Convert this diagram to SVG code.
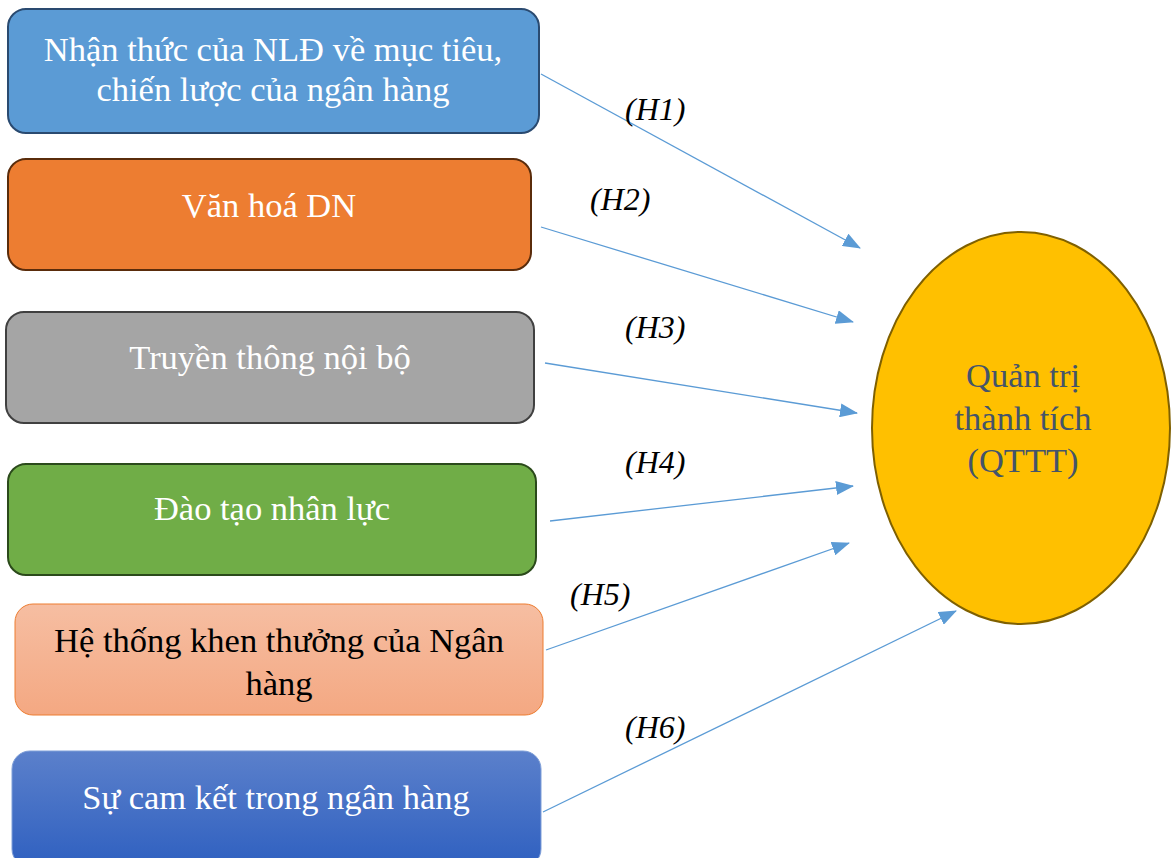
<svg xmlns="http://www.w3.org/2000/svg" width="1171" height="858" viewBox="0 0 1171 858">
  <defs>
    <style>
      text { font-family: 'Liberation Serif', 'Times New Roman', serif; }
      .lbl { font-size: 34.5px; text-anchor: middle; }
      .w { fill: #ffffff; }
      .k { fill: #000000; }
      .hyp { font-size: 32px; font-style: italic; fill: #000000; }
      .link { stroke: #5b9bd5; stroke-width: 1.3; fill: none; marker-end: url(#arrow); }
    </style>
    <marker id="arrow" markerUnits="userSpaceOnUse" markerWidth="18" markerHeight="14" refX="17" refY="7" orient="auto">
      <path d="M0,0 L18,7 L0,14 Z" fill="#5b9bd5"/>
    </marker>
    <linearGradient id="gPeach" x1="0" y1="0" x2="0" y2="1">
      <stop offset="0" stop-color="#f6bea2"/>
      <stop offset="1" stop-color="#f4a882"/>
    </linearGradient>
    <linearGradient id="gBlue" x1="0" y1="0" x2="0" y2="1">
      <stop offset="0" stop-color="#5b80cb"/>
      <stop offset="1" stop-color="#2f60c0"/>
    </linearGradient>
  </defs>

  <rect width="1171" height="858" fill="#ffffff"/>

  <g id="connectors">
    <line class="link" x1="541" y1="74" x2="860" y2="248"/>
    <line class="link" x1="541" y1="227" x2="853" y2="322"/>
    <line class="link" x1="545" y1="363" x2="857" y2="413"/>
    <line class="link" x1="550" y1="521" x2="853" y2="486"/>
    <line class="link" x1="546" y1="650" x2="849" y2="543"/>
    <line class="link" x1="543" y1="812" x2="956" y2="611"/>
    <text class="hyp" x="625" y="120">(H1)</text>
    <text class="hyp" x="590" y="210">(H2)</text>
    <text class="hyp" x="625" y="338">(H3)</text>
    <text class="hyp" x="625" y="473">(H4)</text>
    <text class="hyp" x="570" y="605">(H5)</text>
    <text class="hyp" x="625" y="738">(H6)</text>
  </g>

  <g id="node-nhan-thuc">
    <rect x="8" y="9" width="531" height="124" rx="18" fill="#5b9bd5" stroke="#2a4a70" stroke-width="2"/>
    <text class="lbl w" x="273" y="61">Nhận thức của NLĐ về mục tiêu,</text>
    <text class="lbl w" x="273" y="101">chiến lược của ngân hàng</text>
  </g>

  <g id="node-van-hoa">
    <rect x="8" y="159" width="523" height="111" rx="18" fill="#ed7d31" stroke="#5a2c0b" stroke-width="2"/>
    <text class="lbl w" x="269" y="217">Văn hoá DN</text>
  </g>

  <g id="node-truyen-thong">
    <rect x="6" y="312" width="528" height="111" rx="18" fill="#a5a5a5" stroke="#404040" stroke-width="2"/>
    <text class="lbl w" x="270" y="369">Truyền thông nội bộ</text>
  </g>

  <g id="node-dao-tao">
    <rect x="8" y="464" width="528" height="111" rx="18" fill="#70ad47" stroke="#2b4a1b" stroke-width="2"/>
    <text class="lbl w" x="272" y="520">Đào tạo nhân lực</text>
  </g>

  <g id="node-khen-thuong">
    <rect x="15" y="604" width="528" height="111" rx="18" fill="url(#gPeach)" stroke="#ed7d31" stroke-width="1"/>
    <text class="lbl k" x="279" y="652">Hệ thống khen thưởng của Ngân</text>
    <text class="lbl k" x="279" y="695">hàng</text>
  </g>

  <g id="node-cam-ket">
    <rect x="12" y="751" width="529" height="116" rx="18" fill="url(#gBlue)" stroke="#7f9fd8" stroke-width="1"/>
    <text class="lbl w" x="276" y="809">Sự cam kết trong ngân hàng</text>
  </g>

  <g id="node-qttt">
    <ellipse cx="1021" cy="428" rx="149" ry="196" fill="#ffc000" stroke="#7f6000" stroke-width="2"/>
    <text class="lbl" x="1023" y="387" fill="#44546a">Quản trị</text>
    <text class="lbl" x="1023" y="430" fill="#44546a">thành tích</text>
    <text class="lbl" x="1023" y="472" fill="#44546a">(QTTT)</text>
  </g>
</svg>
